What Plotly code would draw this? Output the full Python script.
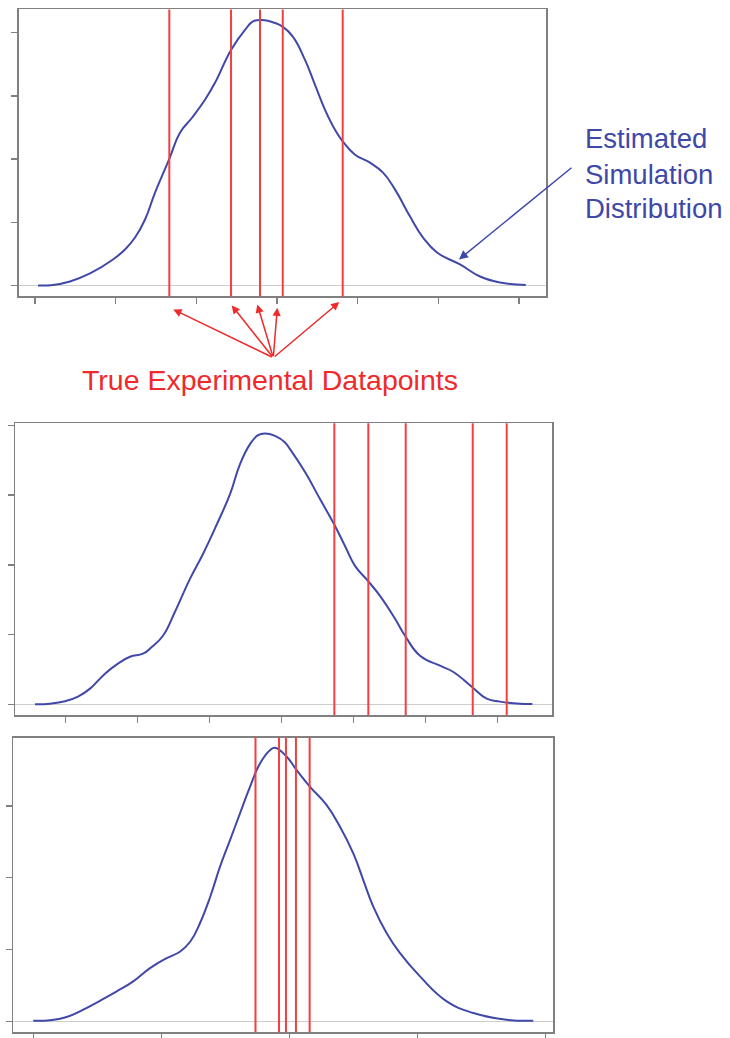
import plotly.graph_objects as go

# ---------------- data (axis units: one unit = one tick interval) ----------------
# Panel 1: estimated simulation density + true experimental datapoints
p1_x = [0.037, 0.223, 0.434, 0.682, 0.967, 1.116, 1.240, 1.364, 1.488, 1.661, 1.797,
        1.946, 2.107, 2.231, 2.430, 2.603, 2.702, 2.814, 2.975, 3.074, 3.198, 3.347,
        3.471, 3.595, 3.719, 3.814, 3.967, 4.153, 4.314, 4.463, 4.649, 4.810, 4.983,
        5.268, 5.516, 5.764, 6.083]
p1_y = [0.000, 0.008, 0.063, 0.190, 0.411, 0.569, 0.758, 1.043, 1.469, 1.991, 2.417,
        2.654, 2.938, 3.207, 3.728, 4.044, 4.179, 4.202, 4.155, 4.092, 3.934, 3.570,
        3.175, 2.780, 2.464, 2.280, 2.069, 1.943, 1.785, 1.517, 1.090, 0.758, 0.521,
        0.332, 0.142, 0.047, 0.008]
p1_points = [1.665, 2.430, 2.789, 3.071, 3.814]

# Panel 2
p2_x = [-0.426, -0.218, -0.010, 0.171, 0.338, 0.546, 0.726, 0.893, 1.074, 1.199, 1.351,
        1.518, 1.726, 1.907, 2.101, 2.282, 2.421, 2.560, 2.671, 2.768, 2.907, 3.046,
        3.115, 3.324, 3.532, 3.726, 3.879, 4.018, 4.194, 4.365, 4.574, 4.722, 4.921,
        5.199, 5.379, 5.639, 5.847, 6.032, 6.310, 6.481]
p2_y = [0.007, 0.014, 0.047, 0.114, 0.229, 0.443, 0.586, 0.686, 0.729, 0.829, 0.986,
        1.329, 1.800, 2.157, 2.586, 3.014, 3.443, 3.729, 3.857, 3.881, 3.847, 3.753,
        3.657, 3.329, 2.943, 2.586, 2.271, 1.986, 1.776, 1.557, 1.229, 0.971, 0.700,
        0.557, 0.471, 0.257, 0.086, 0.043, 0.014, 0.010]
p2_points = [3.731, 4.203, 4.722, 5.653, 6.125]

# Panel 3
p3_x = [0.000, 0.130, 0.261, 0.391, 0.521, 0.652, 0.781, 0.912, 1.042, 1.148, 1.227,
        1.302, 1.383, 1.459, 1.537, 1.615, 1.693, 1.771, 1.849, 1.888, 1.980, 2.058,
        2.162, 2.292, 2.396, 2.500, 2.578, 2.656, 2.761, 2.865, 3.021, 3.230, 3.438,
        3.698, 3.906]
p3_y = [0.008, 0.014, 0.060, 0.162, 0.286, 0.417, 0.556, 0.741, 0.880, 0.973, 1.112,
        1.367, 1.739, 2.156, 2.526, 2.897, 3.268, 3.593, 3.778, 3.811, 3.686, 3.499,
        3.268, 3.013, 2.712, 2.341, 1.969, 1.599, 1.228, 0.950, 0.626, 0.278, 0.115,
        0.022, 0.008]
p3_points = [1.736, 1.920, 1.974, 2.052, 2.159]

sim_label = ["Estimated", "Simulation", "Distribution"]
exp_label = "True Experimental Datapoints"

# ---------------- styling ----------------
W, H = 730, 1038
CURVE = "rgb(64,72,168)"
BLUE_TXT = "rgb(62,72,168)"
RED_LINE = "rgb(240,64,64)"
RED_TXT = "rgb(238,42,42)"
FRAME = "rgb(128,128,128)"
FONT = "Liberation Sans, Arial, sans-serif"

def px_x(p):
    return p / W

def px_y(p):
    return 1 - p / H

panels = [
    dict(x=p1_x, y=p1_y, pts=p1_points, box=(18.5, 546, 9.5, 297),
         xr=[-0.2045, 6.334], yr=[-0.174, 4.368]),
    dict(x=p2_x, y=p2_y, pts=p2_points, box=(15, 552.3, 424, 716.7),
         xr=[-0.704, 6.758], yr=[-0.153, 4.029]),
    dict(x=p3_x, y=p3_y, pts=p3_points, box=(13.3, 553.3, 739, 1034.3),
         xr=[-0.156, 4.0625], yr=[-0.153, 3.954]),
]

fig = go.Figure()
shapes = []
for i, p in enumerate(panels, start=1):
    sx = "" if i == 1 else str(i)
    xa, ya = "x" + sx, "y" + sx
    fig.add_trace(go.Scatter(x=p["x"], y=p["y"], mode="lines",
                             line=dict(color=CURVE, width=2, shape="spline", smoothing=1.3),
                             xaxis=xa, yaxis=ya, showlegend=False, hoverinfo="skip"))
    for v in p["pts"]:
        shapes.append(dict(type="line", xref=xa, yref=ya + " domain", x0=v, x1=v, y0=0, y1=1,
                           line=dict(color=RED_LINE, width=2), layer="above"))
    l, r, t, b = p["box"]
    axis_common = dict(showline=True, mirror=True, linecolor=FRAME, linewidth=1.5,
                       ticks="outside", ticklen=6, tickwidth=1.2, tickcolor=FRAME,
                       showticklabels=False, showgrid=False, tick0=0, dtick=1)
    fig.layout["xaxis" + sx] = dict(domain=[px_x(l), px_x(r)], range=p["xr"], anchor=ya,
                                   zeroline=False, **axis_common)
    fig.layout["yaxis" + sx] = dict(domain=[px_y(b), px_y(t)], range=p["yr"], anchor=xa,
                                   zeroline=True, zerolinecolor="rgb(205,205,205)",
                                   zerolinewidth=1, **axis_common)

annotations = []
# red arrows from a common tail to the datapoints of panel 1
tail = (273.3, 358.3)
heads = [(173.3, 310), (231.7, 306), (257.3, 305), (277.3, 308.3), (339.3, 302.7)]
for hx, hy in heads:
    annotations.append(dict(xref="paper", yref="paper", x=px_x(hx), y=px_y(hy), text="",
                            showarrow=True, axref="pixel", ayref="pixel",
                            ax=tail[0] - hx, ay=tail[1] - hy, arrowhead=2, arrowsize=1.1,
                            arrowwidth=1.5, arrowcolor=RED_TXT, standoff=0, startstandoff=0))
# blue arrow
annotations.append(dict(xref="paper", yref="paper", x=px_x(459), y=px_y(260), text="",
                        showarrow=True, axref="pixel", ayref="pixel",
                        ax=573 - 459, ay=167 - 260, arrowhead=2, arrowsize=1.2,
                        arrowwidth=1.5, arrowcolor=BLUE_TXT, standoff=0, startstandoff=0))
# texts
annotations.append(dict(xref="paper", yref="paper", x=px_x(270), y=px_y(381),
                        xanchor="center", yanchor="middle", text=exp_label, showarrow=False,
                        font=dict(family=FONT, size=28.5, color=RED_TXT)))
for txt, cy in zip(sim_label, [139, 175, 209]):
    annotations.append(dict(xref="paper", yref="paper", x=px_x(583), y=px_y(cy),
                            xanchor="left", yanchor="middle", text=txt, showarrow=False,
                            font=dict(family=FONT, size=27.5, color=BLUE_TXT)))

fig.update_layout(width=W, height=H, margin=dict(l=0, r=0, t=0, b=0),
                  paper_bgcolor="white", plot_bgcolor="white",
                  shapes=shapes, annotations=annotations, showlegend=False)

fig.write_html("out.html", config={"displayModeBar": False, "staticPlot": True},
               post_script="document.body.style.margin='0px';document.body.style.overflow='hidden';")
